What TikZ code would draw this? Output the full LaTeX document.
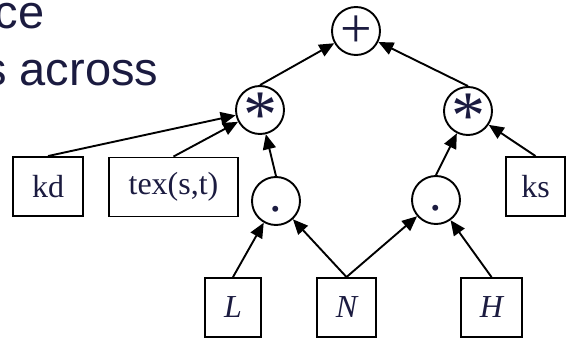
\documentclass[tikz,border=0pt]{standalone}
\usepackage{fontspec}
\setmainfont{Liberation Serif}
\newfontfamily\slidefont{Liberation Sans}
\usetikzlibrary{arrows.meta}
\definecolor{ink}{HTML}{1B1B40}
% glyph set in a box of zero size, its baseline #1 below the node centre
\newcommand\opglyph[2]{\makebox[0pt]{\raisebox{-#1}[0pt][0pt]{#2}}}
\tikzset{
  op/.style={circle, draw=black, line width=1.9pt, minimum size=48pt, inner sep=0pt,
    text=ink, font=\fontsize{56}{56}\selectfont, text height=0pt, text depth=0pt},
  plusop/.style={op},
  starop/.style={op, font=\fontsize{68}{68}\selectfont},
  dotop/.style={op, font=\fontsize{50}{50}\selectfont},
  leaf/.style={rectangle, draw=black, line width=1.9pt, minimum height=59pt, inner sep=0pt,
    text=ink, font=\fontsize{32}{32}\selectfont},
  edge/.style={line width=1.9pt, -{Triangle[length=15pt,width=13pt]}},
  slide/.style={anchor=base east, inner sep=0pt, text=ink, font=\slidefont\fontsize{47}{56}\selectfont}
}
\begin{document}
\begin{tikzpicture}[x=1pt,y=1pt]
  \useasboundingbox (0,0) rectangle (566,338);
  \clip (0,0) rectangle (566,338);
  % slide text running in from the left
  \node[slide] (line1) at (44.5,309) {ce};
  \node[slide] (line2) at (158.5,252) {s across};
  % operator nodes
  \node[plusop] (plus) at (356,307) {\opglyph{16.5pt}{+}};
  \node[starop] (mulA) at (260,228) {\opglyph{28pt}{*}};
  \node[starop] (mulB) at (468,227) {\opglyph{28pt}{*}};
  \node[dotop] (dotA) at (276,137) {\opglyph{11pt}{.}};
  \node[dotop] (dotB) at (436,138) {\opglyph{11pt}{.}};
  % leaves
  \node[leaf, minimum width=70pt] (kd) at (48,151.5) {kd};
  \node[leaf, minimum width=129pt] (tex) at (173.5,151) {tex(s,t)};
  \node[leaf, minimum width=59pt] (ks) at (535.5,151.5) {ks};
  \node[leaf, minimum width=56pt] (L) at (233,30.5) {\itshape L};
  \node[leaf, minimum width=59pt] (N) at (346.5,30.5) {\itshape N};
  \node[leaf, minimum width=61pt] (H) at (491.5,30.5) {\itshape H};
  % edges, child to parent
  \draw[edge] (mulA.north) -- (plus);
  \draw[edge] (mulB.north) -- (plus);
  \draw[edge] (kd.north) -- (mulA);
  \draw[edge] (tex.north) -- (mulA);
  \draw[edge] (dotA.north) -- (mulA);
  \draw[edge] (dotB.north) -- (mulB);
  \draw[edge] (ks.north) -- (mulB);
  \draw[edge] (L.north) -- (dotA);
  \draw[edge] (N.north) -- (dotA);
  \draw[edge] (N.north) -- (dotB);
  \draw[edge] (H.north) -- (dotB);
\end{tikzpicture}
\end{document}
